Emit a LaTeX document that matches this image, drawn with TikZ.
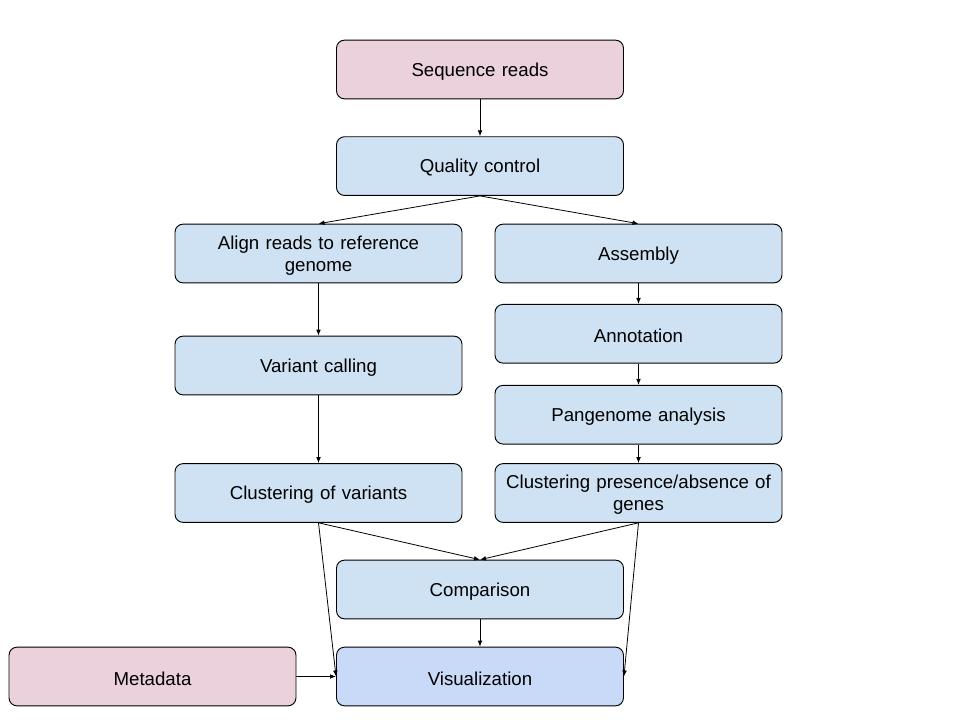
\documentclass[tikz,border=0pt]{standalone}
\usepackage{fontspec}
\setmainfont{Liberation Sans}
\usetikzlibrary{positioning, arrows.meta}

\definecolor{inputpink}{HTML}{EAD1DC}
\definecolor{stepblue}{HTML}{CFE2F3}
\definecolor{outblue}{HTML}{C9DAF8}

\begin{document}
\begin{tikzpicture}[
    x=0.75pt, y=-0.75pt,
    font=\fontsize{14pt}{16.5pt}\selectfont,
    boxnode/.style={rectangle, rounded corners=6pt, draw=black, line width=0.7pt,
        minimum width=215.25pt, minimum height=44pt, align=center, text width=205pt, inner sep=0pt,
        execute at begin node={\rule{0pt}{13pt}}},
    inputnode/.style={boxnode, fill=inputpink},
    stepnode/.style={boxnode, fill=stepblue},
    arrow/.style={-{Latex[length=4.5pt,width=3.5pt]}, line width=0.6pt},
]
\useasboundingbox (0,0) rectangle (960,720);
\node[inputnode](seq) at (480,69.5){Sequence reads};
\node[stepnode](qc)[below = 27.75pt of seq]{Quality control};
\node[stepnode](align) at (318.5,253.5){Align reads to reference\\genome};
\node[stepnode](asm) at (638.5,253.5){Assembly};
\node[stepnode](var) at (318.5,365.5){Variant calling};
\node[stepnode](ann)[below = 15.5pt of asm]{Annotation};
\node[stepnode](pan)[below = 16pt of ann]{Pangenome analysis};
\node[stepnode](clv) at (318.5,493){Clustering of variants};
\node[stepnode](clp) at (638.5,493){Clustering presence/absence of\\genes};
\node[stepnode](cmp) at (480,589.5){Comparison};
\node[boxnode, fill=outblue](vis) at (480,676.5){Visualization};
\node[inputnode](meta) at (152.5,676.5){Metadata};

\draw[arrow] (seq) -- (qc);
\draw[arrow] (qc.south) -- (align.north);
\draw[arrow] (qc.south) -- (asm.north);
\draw[arrow] (align) -- (var);
\draw[arrow] (var) -- (clv);
\draw[arrow] (asm) -- (ann);
\draw[arrow] (ann) -- (pan);
\draw[arrow] (pan) -- (clp);
\draw[arrow] (clv.south) -- (cmp.north);
\draw[arrow] (clp.south) -- (cmp.north);
\draw[arrow] (clv.south) -- (vis.west);
\draw[arrow] (clp.south) -- (vis.east);
\draw[arrow] (cmp) -- (vis);
\draw[arrow] (meta) -- (vis);
\end{tikzpicture}
\end{document}
